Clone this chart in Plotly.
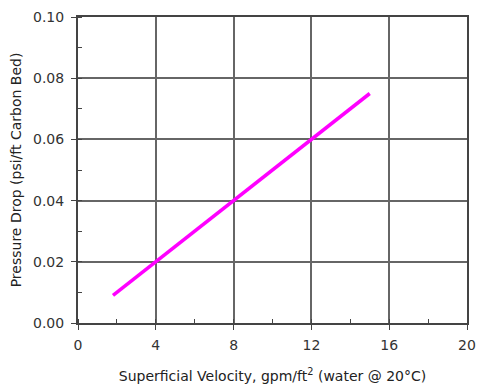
import plotly.graph_objects as go

velocity = [1.8, 4, 8, 12, 15]
pressure_drop = [0.009, 0.02, 0.04, 0.06, 0.075]
x_ticks = [0, 4, 8, 12, 16, 20]
y_ticks = [0.00, 0.02, 0.04, 0.06, 0.08, 0.10]

fig = go.Figure()
fig.add_trace(go.Scatter(x=velocity, y=pressure_drop, mode="lines",
                         line=dict(color="#ff00ff", width=3.5), showlegend=False))

tick_font = dict(family="DejaVu Sans, sans-serif", size=14, color="#333")
title_font = dict(family="DejaVu Sans, sans-serif", size=14, color="#222")
fig.update_layout(
    width=478, height=391,
    margin=dict(l=78, r=11, t=17, b=68, autoexpand=False),
    paper_bgcolor="white", plot_bgcolor="white",
    font=tick_font,
)
fig.update_xaxes(
    automargin=False,
    range=[0, 20], tickvals=x_ticks, ticktext=[str(v) for v in x_ticks],
    tickfont=tick_font, ticklabelstandoff=3,
    showgrid=True, gridcolor="#666", gridwidth=1.5,
    showline=True, linecolor="#444", linewidth=2, mirror=True,
    ticks="outside", ticklen=5, tickcolor="#444",
    minor=dict(dtick=2, ticks="inside", ticklen=4, tickcolor="#444", showgrid=False),
    zeroline=False,
    title=dict(text="Superficial Velocity, gpm/ft<sup>2</sup> (water @ 20°C)", font=title_font, standoff=19),
)
fig.update_yaxes(
    automargin=False,
    range=[0, 0.1], tickvals=y_ticks, ticktext=[f"{v:.2f}" for v in y_ticks],
    tickfont=tick_font, ticklabelstandoff=4,
    showgrid=True, gridcolor="#666", gridwidth=1.5,
    showline=True, linecolor="#444", linewidth=2, mirror=True,
    ticks="outside", ticklen=5, tickcolor="#444",
    minor=dict(dtick=0.01, ticks="inside", ticklen=4, tickcolor="#444", showgrid=False),
    zeroline=False,
    title=dict(text="Pressure Drop (psi/ft Carbon Bed)", font=title_font, standoff=8),
)
fig.write_html("out.html", config={"displayModeBar": False},
               post_script="document.body.style.margin='0';document.body.style.overflow='hidden';")
